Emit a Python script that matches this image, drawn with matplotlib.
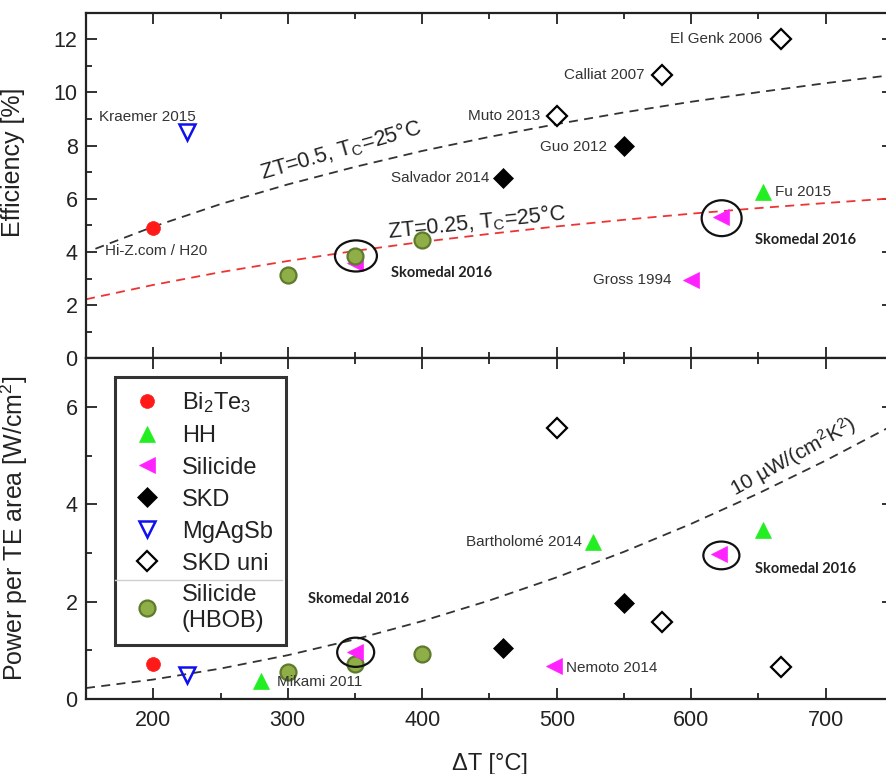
import matplotlib
matplotlib.use("Agg")
import matplotlib.pyplot as plt
from matplotlib.patches import Ellipse
from matplotlib.lines import Line2D
from matplotlib.ticker import MultipleLocator

plt.rcParams['font.family'] = ['Liberation Sans', 'DejaVu Sans']
plt.rcParams['mathtext.default'] = 'regular'

# ---------------- data (efficiency panel) ----------------
bite_eff_x, bite_eff_y = [200], [4.9]
hh_eff_x, hh_eff_y = [653], [6.25]
sil_eff_x, sil_eff_y = [350, 622, 600], [3.6, 5.3, 2.95]
skd_eff_x, skd_eff_y = [460, 550], [6.78, 7.97]
mgagsb_eff_x, mgagsb_eff_y = [225], [8.5]
skduni_eff_x, skduni_eff_y = [500, 578, 667], [9.1, 10.65, 12.0]
hbob_eff_x, hbob_eff_y = [300, 350, 400], [3.15, 3.85, 4.45]

# model curves
zt05_x = [157, 200, 250, 300, 350, 400, 450, 500, 550, 600, 650, 700, 750]
zt05_y = [4.12, 4.95, 5.80, 6.54, 7.20, 7.80, 8.33, 8.81, 9.25, 9.65, 10.01, 10.35, 10.66]
zt025_x = [150, 200, 250, 300, 350, 400, 450, 500, 550, 600, 650, 700, 750]
zt025_y = [2.22, 2.76, 3.24, 3.66, 4.04, 4.38, 4.68, 4.96, 5.21, 5.44, 5.65, 5.84, 6.02]

# ---------------- data (power panel) ----------------
bite_pow_x, bite_pow_y = [200], [0.72]
hh_pow_x, hh_pow_y = [280, 527, 653], [0.38, 3.22, 3.48]
sil_pow_x, sil_pow_y = [350, 498, 621], [0.97, 0.68, 2.98]
skd_pow_x, skd_pow_y = [460, 550], [1.05, 1.98]
mgagsb_pow_x, mgagsb_pow_y = [225], [0.5]
skduni_pow_x, skduni_pow_y = [500, 578, 667], [5.56, 1.58, 0.65]
hbob_pow_x, hbob_pow_y = [300, 350, 400], [0.56, 0.72, 0.92]

pd_x = [150, 200, 250, 300, 350, 400, 450, 500, 550, 600, 650, 700, 750]
pd_y = [0.225, 0.40, 0.625, 0.90, 1.225, 1.60, 2.025, 2.50, 3.025, 3.60, 4.225, 4.90, 5.625]

legend_labels = ['Bi$_2$Te$_3$', 'HH', 'Silicide', 'SKD', 'MgAgSb', 'SKD uni', 'Silicide\n(HBOB)']

# ---------------- styles ----------------
RED = '#ff1a1a'
GREEN = '#22ee22'
MAG = '#ff22ff'
OLIVE = '#8fae48'
OLIVE_E = '#5e7a2c'
TXT = '#333333'

styles = {
    'bite': dict(marker='o', ms=10, mfc=RED, mec=RED, mew=0.5, ls='none'),
    'hh': dict(marker='^', ms=12, mfc=GREEN, mec=GREEN, mew=0.5, ls='none'),
    'sil': dict(marker='<', ms=12, mfc=MAG, mec=MAG, mew=0.5, ls='none'),
    'skd': dict(marker='D', ms=10, mfc='black', mec='black', mew=0.5, ls='none'),
    'mg': dict(marker='v', ms=11, mfc='none', mec='#1010ee', mew=1.8, ls='none'),
    'skduni': dict(marker='D', ms=10, mfc='white', mec='black', mew=1.6, ls='none'),
    'hbob': dict(marker='o', ms=11.5, mfc=OLIVE, mec=OLIVE_E, mew=1.6, ls='none'),
}

W, H = 887, 774
fig = plt.figure(figsize=(W / 100, H / 100), dpi=100)

left_px, right_px = 86, 893
top_px, mid_px, bot_px = 12.7, 358.3, 699

def rect(t, b):
    return [left_px / W, 1 - b / H, (right_px - left_px) / W, (b - t) / H]

ax1 = fig.add_axes(rect(top_px, mid_px))
ax2 = fig.add_axes(rect(mid_px, bot_px))

for ax in (ax1, ax2):
    ax.set_xlim(150, 750)
    ax.xaxis.set_major_locator(MultipleLocator(100))
    ax.xaxis.set_minor_locator(MultipleLocator(50))
    ax.tick_params(which='both', direction='in', top=True, right=True, width=1.3,
                   labelsize=15.5, colors='#222222')
    ax.tick_params(which='major', length=8)
    ax.tick_params(which='minor', length=4.5)
    ax.tick_params(axis='x', pad=8)
    ax.tick_params(axis='y', pad=6)
    for s in ax.spines.values():
        s.set_linewidth(1.6)
        s.set_color('#222222')

ax1.set_ylim(0, 13)
ax1.yaxis.set_major_locator(MultipleLocator(2))
ax1.yaxis.set_minor_locator(MultipleLocator(1))
ax1.tick_params(axis='x', labelbottom=False)

ax2.set_ylim(0, 7)
ax2.yaxis.set_major_locator(MultipleLocator(2))
ax2.yaxis.set_minor_locator(MultipleLocator(1))

# ---------- top panel ----------
ax1.plot(zt05_x, zt05_y, color='#333333', lw=1.3, ls=(0, (5, 3.5)), zorder=2)
ax1.plot(zt025_x, zt025_y, color='#ee3333', lw=1.3, ls=(0, (5, 3.5)), zorder=2)

ax1.plot(sil_eff_x, sil_eff_y, **styles['sil'], zorder=3)
ax1.plot(bite_eff_x, bite_eff_y, **styles['bite'], zorder=3)
ax1.plot(hh_eff_x, hh_eff_y, **styles['hh'], zorder=3)
ax1.plot(skd_eff_x, skd_eff_y, **styles['skd'], zorder=3)
ax1.plot(mgagsb_eff_x, mgagsb_eff_y, **styles['mg'], zorder=3)
ax1.plot(skduni_eff_x, skduni_eff_y, **styles['skduni'], zorder=3)
ax1.plot(hbob_eff_x, hbob_eff_y, **styles['hbob'], zorder=4)

af = dict(fontsize=11, color=TXT, va='center')
ax1.text(160, 9.07, 'Kraemer 2015', ha='left', **af)
ax1.text(164, 4.05, 'Hi-Z.com / H20', ha='left', **af)
ax1.text(653, 12.0, 'El Genk 2006', ha='right', **af)
ax1.text(565, 10.65, 'Calliat 2007', ha='right', **af)
ax1.text(488, 9.12, 'Muto 2013', ha='right', **af)
ax1.text(537, 7.95, 'Guo 2012', ha='right', **af)
ax1.text(450, 6.77, 'Salvador 2014', ha='right', **af)
ax1.text(662, 6.26, 'Fu 2015', ha='left', **af)
ax1.text(585, 2.94, 'Gross 1994', ha='right', **af)

sk = dict(fontsize=10.5, fontweight='bold', family=['Lato', 'DejaVu Sans'], color='#222222', va='center')
ax1.text(376.5, 3.22, 'Skomedal 2016', ha='left', **sk)
ax1.text(647.4, 4.45, 'Skomedal 2016', ha='left', **sk)

ax1.text(339.6, 7.83, 'ZT=0.5, T$_C$=25°C', fontsize=15.5, color='#222222', rotation=16,
         rotation_mode='anchor', ha='center', va='center')
ax1.text(440.7, 5.12, 'ZT=0.25, T$_C$=25°C', fontsize=15.5, color='#222222', rotation=6,
         rotation_mode='anchor', ha='center', va='center')

ax1.add_patch(Ellipse((350.7, 3.85), 31.2, 1.17, fill=False, lw=1.6, ec='#111111', zorder=5))
ax1.add_patch(Ellipse((622.6, 5.27), 29.7, 1.35, fill=False, lw=1.6, ec='#111111', zorder=5))

ax1.set_ylabel('Efficiency [%]', fontsize=18, color='#222222')
ax1.yaxis.set_label_coords(-0.075, 0.568)

# ---------- bottom panel ----------
ax2.plot(pd_x, pd_y, color='#333333', lw=1.3, ls=(0, (5, 3.5)), zorder=2)

ax2.plot(bite_pow_x, bite_pow_y, **styles['bite'], zorder=3)
ax2.plot(hh_pow_x, hh_pow_y, **styles['hh'], zorder=3)
ax2.plot(hbob_pow_x, hbob_pow_y, **styles['hbob'], zorder=3)
ax2.plot(sil_pow_x, sil_pow_y, **styles['sil'], zorder=4)
ax2.plot(skd_pow_x, skd_pow_y, **styles['skd'], zorder=3)
ax2.plot(mgagsb_pow_x, mgagsb_pow_y, **styles['mg'], zorder=3)
ax2.plot(skduni_pow_x, skduni_pow_y, **styles['skduni'], zorder=3)

ax2.text(291.8, 0.355, 'Mikami 2011', ha='left', **af)
ax2.text(519, 3.22, 'Bartholomé 2014', ha='right', **af)
ax2.text(507, 0.63, 'Nemoto 2014', ha='left', **af)
ax2.text(315, 2.06, 'Skomedal 2016', ha='left', **sk)
ax2.text(647.4, 2.68, 'Skomedal 2016', ha='left', **sk)

ax2.text(675.7, 4.98, '10 µW/(cm$^2$K$^2$)', fontsize=15, color='#222222', rotation=29,
         rotation_mode='anchor', ha='center', va='center')

ax2.add_patch(Ellipse((350.5, 0.96), 27.5, 0.6, fill=False, lw=1.6, ec='#111111', zorder=5))
ax2.add_patch(Ellipse((622.4, 2.95), 26.8, 0.57, fill=False, lw=1.6, ec='#111111', zorder=5))

ax2.set_ylabel('Power per TE area [W/cm$^2$]', fontsize=18, color='#222222')
ax2.yaxis.set_label_coords(-0.069, 0.5)
ax2.set_xlabel('ΔT [°C]', fontsize=17, color='#222222', labelpad=16)

handles = [Line2D([], [], **styles[k]) for k in ['bite', 'hh', 'sil', 'skd', 'mg', 'skduni', 'hbob']]
leg = ax2.legend(handles, legend_labels, loc='upper left', bbox_to_anchor=(0.036, 0.945),
                 fontsize=17, frameon=True, fancybox=False, edgecolor='black',
                 labelspacing=0.42, handlelength=1.6, handletextpad=0.68, borderpad=0.55,
                 borderaxespad=0)
leg.get_frame().set_linewidth(2.2)
for t in leg.get_texts():
    t.set_color('#222222')

# faint separator artefact inside the legend box
fig.add_artist(Line2D([115 / W, 282 / W], [1 - 580 / H, 1 - 580 / H], transform=fig.transFigure,
                      color='#cfcfcf', lw=1.0, zorder=10))

fig.savefig('out.png', dpi=100)
